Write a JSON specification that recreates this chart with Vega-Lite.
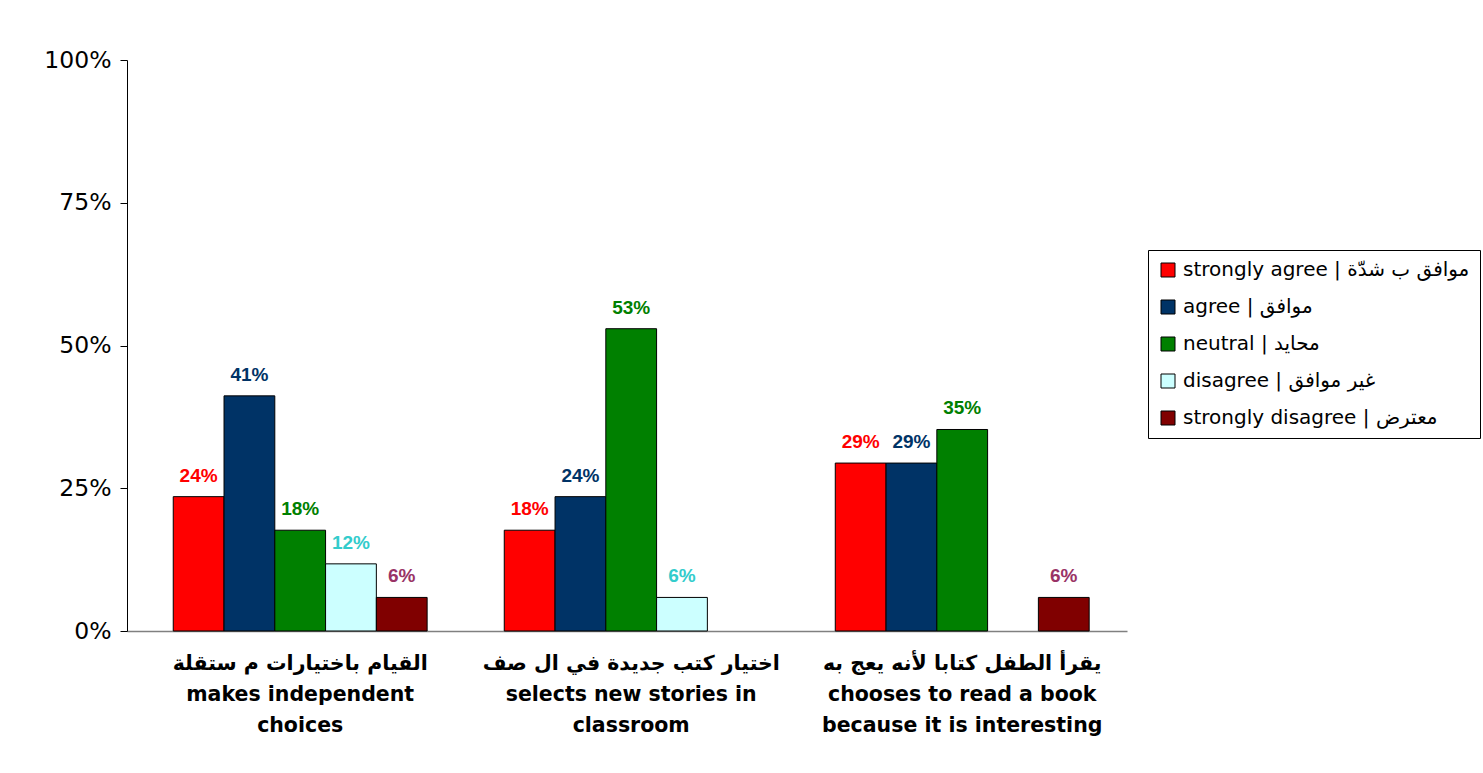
{
  "$schema": "https://vega.github.io/schema/vega-lite/v6.json",
  "autosize": "none",
  "width": 1000,
  "height": 571,
  "padding": {"left": 127, "top": 60, "right": 356, "bottom": 142},
  "background": "white",
  "config": {
    "view": {"stroke": null},
    "font": "DejaVu Sans"
  },
  "data": {
    "values": [
      {"item": "القيام باختيارات م ستقلة|makes independent|choices", "response": "strongly agree | موافق ب شدّة", "value": 0.2353},
      {"item": "القيام باختيارات م ستقلة|makes independent|choices", "response": "agree | موافق", "value": 0.4118},
      {"item": "القيام باختيارات م ستقلة|makes independent|choices", "response": "neutral | محايد", "value": 0.1765},
      {"item": "القيام باختيارات م ستقلة|makes independent|choices", "response": "disagree | غير موافق", "value": 0.1176},
      {"item": "القيام باختيارات م ستقلة|makes independent|choices", "response": "strongly disagree | معترض", "value": 0.0588},
      {"item": "اختيار كتب جديدة في ال صف|selects new stories in|classroom", "response": "strongly agree | موافق ب شدّة", "value": 0.1765},
      {"item": "اختيار كتب جديدة في ال صف|selects new stories in|classroom", "response": "agree | موافق", "value": 0.2353},
      {"item": "اختيار كتب جديدة في ال صف|selects new stories in|classroom", "response": "neutral | محايد", "value": 0.5294},
      {"item": "اختيار كتب جديدة في ال صف|selects new stories in|classroom", "response": "disagree | غير موافق", "value": 0.0588},
      {"item": "يقرأ الطفل كتابا لأنه يعج به|chooses to read a book|because it is interesting", "response": "strongly agree | موافق ب شدّة", "value": 0.2941},
      {"item": "يقرأ الطفل كتابا لأنه يعج به|chooses to read a book|because it is interesting", "response": "agree | موافق", "value": 0.2941},
      {"item": "يقرأ الطفل كتابا لأنه يعج به|chooses to read a book|because it is interesting", "response": "neutral | محايد", "value": 0.3529},
      {"item": "يقرأ الطفل كتابا لأنه يعج به|chooses to read a book|because it is interesting", "response": "strongly disagree | معترض", "value": 0.0588}
    ]
  },
  "encoding": {
    "x": {
      "field": "item",
      "type": "nominal",
      "sort": null,
      "scale": {"paddingInner": 0.233, "paddingOuter": 0.127, "align": 0.55},
      "axis": {
        "title": null,
        "labelAngle": 0,
        "labelExpr": "split(datum.value, '|')",
        "labelFont": "DejaVu Sans",
        "labelFontWeight": "bold",
        "labelFontSize": 20.5,
        "labelLineHeight": 31,
        "labelColor": "black",
        "labelPadding": 22,
        "labelLimit": 400,
        "ticks": false,
        "domainColor": "#808080",
        "domainWidth": 1.5
      }
    },
    "xOffset": {
      "field": "response",
      "type": "nominal",
      "sort": ["strongly agree | موافق ب شدّة", "agree | موافق", "neutral | محايد", "disagree | غير موافق", "strongly disagree | معترض"],
      "scale": {"paddingInner": 0, "paddingOuter": 0}
    },
    "y": {
      "field": "value",
      "type": "quantitative",
      "scale": {"domain": [0, 1]},
      "axis": {
        "title": null,
        "values": [0, 0.25, 0.5, 0.75, 1],
        "format": ".0%",
        "grid": false,
        "labelFont": "DejaVu Sans",
        "labelFontSize": 23.5,
        "labelColor": "black",
        "labelPadding": 9,
        "tickSize": 7,
        "tickColor": "black",
        "domainColor": "black"
      }
    }
  },
  "layer": [
    {
      "mark": {"type": "bar", "stroke": "black", "strokeWidth": 1},
      "encoding": {
        "fill": {
          "field": "response",
          "type": "nominal",
          "sort": ["strongly agree | موافق ب شدّة", "agree | موافق", "neutral | محايد", "disagree | غير موافق", "strongly disagree | معترض"],
          "scale": {
            "domain": ["strongly agree | موافق ب شدّة", "agree | موافق", "neutral | محايد", "disagree | غير موافق", "strongly disagree | معترض"],
            "range": ["#FF0000", "#003366", "#008000", "#CCFFFF", "#800000"]
          },
          "legend": {
            "title": null,
            "orient": "none",
            "legendX": 1021,
            "legendY": 190,
            "direction": "vertical",
            "symbolType": "square",
            "symbolSize": 196,
            "symbolStrokeColor": "black",
            "symbolStrokeWidth": 1,
            "labelFont": "DejaVu Sans",
            "labelFontSize": 20,
            "labelColor": "black",
            "labelLimit": 400,
            "labelOffset": 5,
            "rowPadding": 17,
            "padding": 10,
            "strokeColor": "black",
            "fillColor": "white"
          }
        }
      }
    },
    {
      "mark": {"type": "text", "baseline": "bottom", "dy": -11, "font": "Liberation Sans", "fontWeight": "bold", "fontSize": 19},
      "encoding": {
        "text": {"field": "value", "type": "quantitative", "format": ".0%"},
        "color": {
          "field": "response",
          "type": "nominal",
          "scale": {
            "domain": ["strongly agree | موافق ب شدّة", "agree | موافق", "neutral | محايد", "disagree | غير موافق", "strongly disagree | معترض"],
            "range": ["#FF0000", "#003366", "#008000", "#33CCCC", "#993366"]
          },
          "legend": null
        }
      }
    }
  ]
}
